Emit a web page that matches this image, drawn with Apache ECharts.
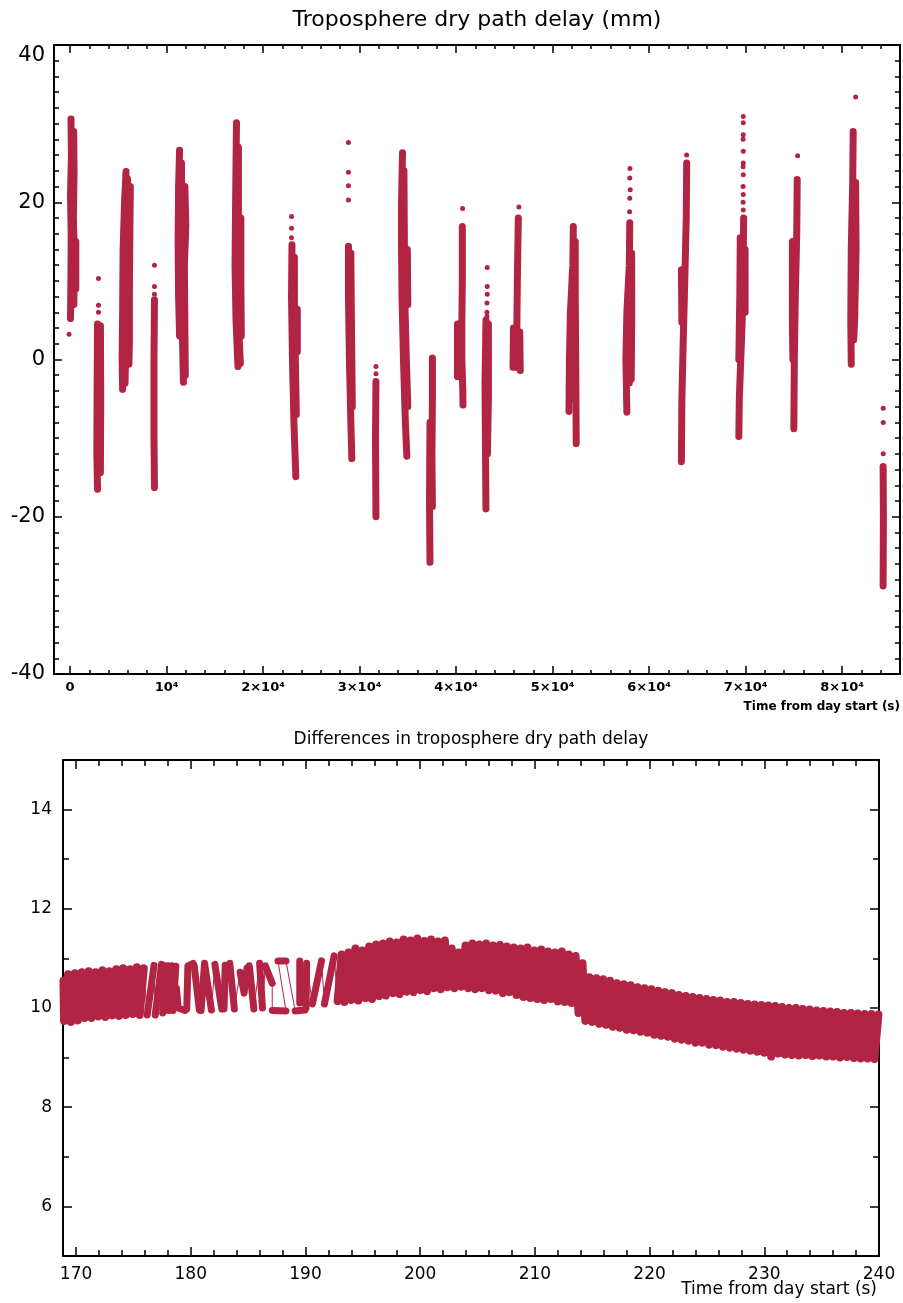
<!DOCTYPE html>
<html>
<head>
<meta charset="utf-8">
<title>Troposphere dry path delay</title>
<script src="https://cdn.jsdelivr.net/npm/echarts@6/dist/echarts.min.js"></script>
<style>
html,body{margin:0;padding:0;background:#fff;}
#chart{width:903px;height:1303px;}
</style>
</head>
<body>
<div id="chart"></div>
<script>
// ---------- top panel: dry path delay (mm) vs time from day start (s)
// one small array per scan streak (time, delay), read top to bottom.
// wide streaks get a 2nd / 3rd pass next to the first one
var streaks = [
    [[100,30.6],[150,26],[50,21],[120,16],[100,11],[50,5.2]],
    [[380,29],[420,24],[350,18],[450,13],[400,7]],
    [[600,15],[600,9]],
    [[2850,4.5],[2800,-5],[2780,-12],[2850,-16.5]],
    [[3150,4.3],[3180,-5],[3150,-14.4]],
    [[5800,23.9],[5650,20],[5500,14],[5450,6],[5400,0],[5450,-3.8]],
    [[5950,23],[6050,20],[5900,14],[5800,6],[5750,0],[5700,-3]],
    [[6250,22],[6200,16],[6150,8],[6150,2],[6100,-0.6]],
    [[8750,7.6],[8700,0],[8700,-10],[8750,-16.3]],
    [[11350,26.6],[11250,22],[11200,15],[11250,8],[11350,3]],
    [[11550,25],[11550,15],[11550,8],[11650,3],[11750,-2.9]],
    [[11900,22],[12000,17],[11850,12],[11900,4],[11950,-2]],
    [[17250,30.1],[17200,25],[17150,19],[17100,12],[17200,5],[17400,-0.9]],
    [[17450,27],[17450,19],[17400,12],[17450,5],[17650,-0.5]],
    [[17700,18],[17700,10],[17750,3]],
    [[23000,14.6],[22950,8],[23050,0],[23200,-8],[23400,-14.9]],
    [[23250,13],[23250,6],[23350,0],[23450,-7]],
    [[23550,6.4],[23550,1]],
    [[28850,14.4],[28850,8],[28950,0],[29100,-8],[29200,-12.6]],
    [[29100,13.5],[29150,6],[29200,0],[29250,-6]],
    [[31700,-2.8],[31650,-10],[31700,-20]],
    [[34450,26.3],[34350,20],[34350,14],[34400,8],[34550,0],[34750,-8],[34900,-12.3]],
    [[34600,24],[34650,14],[34700,7],[34850,0],[35000,-6]],
    [[34950,14],[35000,7]],
    [[37550,0.2],[37550,-5],[37500,-12],[37550,-18.7]],
    [[37300,-8],[37250,-18],[37300,-25.8]],
    [[40650,16.9],[40650,10],[40600,4.8],[40600,0],[40700,-4],[40720,-5.8]],
    [[40150,4.5],[40150,-2.2]],
    [[40400,4.5],[40400,-1.8]],
    [[43100,5],[43000,-3],[43050,-12],[43100,-19]],
    [[43350,4.5],[43350,-5],[43250,-12]],
    [[46450,18],[46350,10],[46300,4],[46250,-1]],
    [[45950,4],[45900,-1]],
    [[46600,3.5],[46650,-1.4]],
    [[52150,16.9],[52100,12],[51850,6],[51750,0],[51700,-6.6]],
    [[52350,15],[52350,8],[52400,0],[52450,-10.7]],
    [[52050,11],[52100,0],[52150,-5]],
    [[58000,17.4],[57950,12],[57700,6],[57600,0],[57700,-6.7]],
    [[58200,13.5],[58200,5],[58150,-2.5]],
    [[57900,8],[57950,0],[57950,-3]],
    [[63900,25],[63850,18],[63700,10],[63550,3],[63400,-5],[63350,-13]],
    [[63350,11.4],[63400,4.7]],
    [[69800,18],[69750,12],[69650,5],[69500,0],[69350,-5],[69300,-9.8]],
    [[69450,15.5],[69400,8],[69300,0]],
    [[69950,14],[69950,6]],
    [[75350,22.9],[75300,16],[75150,8],[75050,0],[75000,-8.8]],
    [[74850,15],[74850,5],[74900,0]],
    [[81150,29],[81100,22.5],[80950,14],[80900,5],[80950,-0.6]],
    [[81400,22.5],[81450,14],[81300,5],[81200,2.5]],
    [[81200,20],[81200,10],[81100,4]],
    [[84250,-13.6],[84280,-20],[84250,-28.8]]
];
// single points above / below the streaks
var strayPoints = [
    [-100,3.2],
    [2950,10.3],[2950,6.9],[2950,6.0],
    [8750,12.0],[8750,9.3],[8750,8.3],
    [22950,18.2],[22950,16.7],[22950,15.5],
    [28850,27.6],[28850,23.8],[28850,22.1],[28850,20.3],
    [31700,-0.9],[31700,-1.8],
    [40680,19.2],
    [43230,11.7],[43230,9.3],[43230,8.3],[43200,7.2],[43200,6.0],[43200,5.5],
    [46510,19.4],
    [58020,24.3],[58000,23.1],[58050,21.6],[58000,20.5],[57980,18.8],
    [63890,26],
    [69760,30.9],[69760,30.1],[69760,28.6],[69740,28.0],[69760,26.5],[69760,25],
    [69740,24.5],[69760,23.5],[69740,22],[69760,21],[69740,20],[69760,19],
    [75390,25.9],
    [81400,33.4],
    [84260,-6.2],[84260,-8],[84260,-12]
];
var topTimeTicks = [0,10000,20000,30000,40000,50000,60000,70000,80000];
var topTimeLabels = ['0','10\u2074','2\u00d710\u2074','3\u00d710\u2074','4\u00d710\u2074',
    '5\u00d710\u2074','6\u00d710\u2074','7\u00d710\u2074','8\u00d710\u2074'];

// ---------- bottom panel: differences (time s, value)
var diffTicksX = [170,180,190,200,210,220,230,240];
var diffTicksY = [6,8,10,12,14];

var diffLeftBlock = [[168.9,10.55],[168.95,9.74],[169.3,10.68],[169.55,9.72],[169.9,10.7],
    [170.15,9.75],[170.5,10.72],[170.75,9.8],[171.1,10.74],[171.35,9.8],[171.7,10.72],
    [171.95,9.83],[172.3,10.76],[172.55,9.82],[172.9,10.74],[173.15,9.85],[173.5,10.78],
    [173.75,9.84],[174.1,10.8],[174.35,9.86],[174.7,10.78],[174.95,9.88],[175.3,10.82],
    [175.55,9.86],[175.9,10.8]];

var diffSparse = [
    [[176.2,9.86],[176.8,10.86]],
    [[176.9,9.86],[177.45,10.88]],
    [[177.55,9.9],[177.6,10.86]],
    [[177.75,9.95],[178.0,10.85]],
    [[178.1,9.95],[178.35,10.85]],
    [[178.45,9.95],[178.7,10.84]],
    [[178.75,10.4],[178.9,10.0],[179.5,9.95]],
    [[179.65,9.98],[179.75,10.85],[180.2,10.9]],
    [[180.3,10.85],[180.75,9.96]],
    [[180.9,9.95],[181.2,10.9],[181.8,9.96]],
    [[182.1,10.88],[182.7,9.98]],
    [[182.9,9.98],[183.0,10.86]],
    [[183.4,10.9],[183.8,9.98]],
    [[184.3,10.72],[184.65,10.3],[184.9,10.8]],
    [[185.1,10.85],[185.5,9.98]],
    [[186.0,10.9],[186.25,10.0]],
    [[186.5,10.85],[187.1,10.5]],
    [[187.1,9.95],[188.3,9.94]],
    [[187.6,10.95],[188.3,10.95]],
    [[189.1,9.94],[189.95,9.96]],
    [[189.5,10.95],[189.5,10.1]],
    [[190.05,10.0],[190.1,10.9]],
    [[190.6,10.08],[191.4,10.95]],
    [[191.65,10.08],[192.5,11.05]]
];

var diffBlockA = [[192.8,10.14],[193.15,11.08],[193.4,10.12],[193.75,11.12],[194.0,10.16],[194.35,11.2],
    [194.6,10.15],[194.95,11.16],[195.2,10.2],[195.55,11.24],[195.8,10.18],[196.15,11.28],
    [196.4,10.24],[196.75,11.3],[197.0,10.25],[197.35,11.34],[197.6,10.3],[197.95,11.32],
    [198.2,10.28],[198.55,11.38],[198.8,10.33],[199.15,11.36],[199.4,10.32],[199.75,11.4],
    [200.0,10.36],[200.35,11.35],[200.6,10.34],[200.95,11.38],[201.2,10.4],[201.55,11.34],
    [201.8,10.38],[202.15,11.36],[202.4,10.42],[202.75,11.2],[203.0,10.4],[203.35,11.12]];
var diffBlockB = [[203.6,10.43],[203.95,11.26],[204.2,10.4],[204.55,11.3],[204.8,10.38],[205.15,11.28],
    [205.4,10.4],[205.75,11.3],[206.0,10.36],[206.35,11.26],[206.6,10.35],[206.95,11.27],
    [207.2,10.3],[207.55,11.24],[207.8,10.32],[208.15,11.22],[208.4,10.26],[208.75,11.2],
    [209.0,10.22],[209.35,11.22],[209.6,10.2],[209.95,11.16],[210.2,10.18],[210.55,11.18],
    [210.8,10.16],[211.15,11.14],[211.4,10.18],[211.75,11.12],[212.0,10.13],[212.35,11.14],
    [212.6,10.12],[212.95,11.08],[213.2,10.1],[213.55,11.05],[213.8,9.9],[214.15,10.9]];
var diffBlockC = [[214.4,9.74],[214.75,10.62],[215.0,9.72],[215.35,10.6],[215.6,9.68],[215.95,10.58],
    [216.2,9.66],[216.55,10.55],[216.8,9.62],[217.15,10.5],[217.4,9.6],[217.75,10.48],
    [218.0,9.56],[218.35,10.46],[218.6,9.55],[218.95,10.42],[219.2,9.52],[219.55,10.4],
    [219.8,9.5],[220.15,10.38],[220.4,9.46],[220.75,10.35],[221.0,9.44],[221.35,10.32],
    [221.6,9.42],[221.95,10.3],[222.2,9.38],[222.55,10.26],[222.8,9.36],[223.15,10.24],
    [223.4,9.34],[223.75,10.22],[224.0,9.3],[224.35,10.2],[224.6,9.3],[224.95,10.18],
    [225.2,9.26],[225.55,10.16],[225.8,9.25],[226.15,10.15],[226.4,9.22],[226.75,10.12]];
var diffBlockD = [[227.0,9.2],[227.35,10.12],[227.6,9.18],[227.95,10.1],[228.2,9.16],[228.55,10.08],
    [228.8,9.14],[229.15,10.07],[229.4,9.12],[229.75,10.06],[230.0,9.1],[230.35,10.05],
    [230.6,9.02],[230.95,10.04],[231.2,9.08],[231.55,10.02],[231.8,9.06],[232.15,10.0],
    [232.4,9.05],[232.75,10.0],[233.0,9.04],[233.35,9.98],[233.6,9.05],[233.95,9.97],
    [234.2,9.03],[234.55,9.95],[234.8,9.04],[235.15,9.94],[235.4,9.02],[235.75,9.93],
    [236.0,9.02],[236.35,9.92],[236.6,9.0],[236.95,9.9],[237.2,9.01],[237.55,9.9],
    [237.8,8.99],[238.15,9.89],[238.4,8.98],[238.75,9.88],[239.0,8.98],[239.35,9.88],
    [239.6,8.97],[239.95,9.87]];

var red = '#b22443';
var font = 'DejaVu Sans';

// minor tick positions
var topMinorX = [];
for (var t = 0; t <= 86000; t += 2000) topMinorX.push(t);
var diffMinorX = [];
for (var d = 170; d <= 240; d += 2) diffMinorX.push(d);
var diffMinorY = [7,9,11,13];

function xAxisFor(grid, pos, min, max, ticks, len, showLine) {
    return {
        type:'value', gridIndex:grid, position:pos, min:min, max:max,
        axisLine:{show:showLine, onZero:false, lineStyle:{color:'#000', width:2}},
        axisTick:{show:true, inside:true, length:len, customValues:ticks, lineStyle:{color:'#000', width:1.5}},
        axisLabel:{show:false},
        splitLine:{show:false}
    };
}
function yAxisFor(grid, pos, min, max, ticks, len, showLine) {
    return {
        type:'value', gridIndex:grid, position:pos, min:min, max:max,
        axisLine:{show:showLine, onZero:false, lineStyle:{color:'#000', width:2}},
        axisTick:{show:true, inside:true, length:len, customValues:ticks, lineStyle:{color:'#000', width:1.5}},
        axisLabel:{show:false},
        splitLine:{show:false}
    };
}

var xAxes = [
    xAxisFor(0,'bottom',-1660,86000,topTimeTicks,8,true),
    xAxisFor(0,'bottom',-1660,86000,topMinorX,4,false),
    xAxisFor(0,'top',-1660,86000,topTimeTicks,8,true),
    xAxisFor(0,'top',-1660,86000,topMinorX,4,false),
    xAxisFor(1,'bottom',168.86,240,diffTicksX,9,true),
    xAxisFor(1,'bottom',168.86,240,diffMinorX,6,false),
    xAxisFor(1,'top',168.86,240,diffTicksX,9,true),
    xAxisFor(1,'top',168.86,240,diffMinorX,6,false)
];
xAxes[0].axisLabel = {
    show:true, customValues:topTimeTicks, margin:7, color:'#000',
    fontFamily:font, fontSize:13, fontWeight:'bold',
    formatter:function(v){ return topTimeLabels[topTimeTicks.indexOf(v)]; }
};
xAxes[4].axisLabel = {
    show:true, customValues:diffTicksX, margin:10, color:'#000',
    fontFamily:font, fontSize:17
};

var topY = {
    type:'value', gridIndex:0, position:'left', min:-40, max:40, interval:20,
    axisLine:{show:true, onZero:false, lineStyle:{color:'#000', width:2}},
    axisTick:{show:true, inside:true, length:8, lineStyle:{color:'#000', width:1.5}},
    minorTick:{show:true, splitNumber:10, length:5, lineStyle:{color:'#000', width:1.5}},
    axisLabel:{show:true, margin:9, color:'#000', fontFamily:font, fontSize:21, verticalAlignMaxLabel:'top'},
    splitLine:{show:false}
};
var topYRight = JSON.parse(JSON.stringify(topY));
topYRight.position = 'right';
topYRight.axisLabel = {show:false};

var yAxes = [
    topY,
    topYRight,
    yAxisFor(1,'left',5,15,diffTicksY,9,true),
    yAxisFor(1,'left',5,15,diffMinorY,6,false),
    yAxisFor(1,'right',5,15,diffTicksY,9,true),
    yAxisFor(1,'right',5,15,diffMinorY,6,false)
];
yAxes[2].axisLabel = {
    show:true, customValues:diffTicksY, margin:11, color:'#000',
    fontFamily:font, fontSize:17
};

var series = [];
streaks.forEach(function(s){
    series.push({
        type:'line', xAxisIndex:0, yAxisIndex:0, data:s, symbol:'none', silent:true,
        lineStyle:{color:red, width:7, cap:'round', join:'round'}
    });
});
series.push({
    type:'scatter', xAxisIndex:0, yAxisIndex:0, data:strayPoints, symbolSize:5, silent:true,
    itemStyle:{color:red, opacity:1}
});

// bottom: thick runs of points + thin line joining everything in time order
var diffDense = diffBlockA.concat(diffBlockB, diffBlockC, diffBlockD);
var diffRuns = [diffLeftBlock].concat(diffSparse, [diffDense]);
var diffAll = [];
diffRuns.forEach(function(r, i){
    diffAll = diffAll.concat(r);
    var dense = (i === 0 || i === diffRuns.length - 1);
    series.push({
        type:'line', xAxisIndex:4, yAxisIndex:2, data:r, symbol:'none', silent:true,
        lineStyle:{color:red, width:dense ? 8 : 7, cap:'round', join:'round'}
    });
});
series.push({
    type:'line', xAxisIndex:4, yAxisIndex:2, data:diffAll, symbol:'none', silent:true,
    lineStyle:{color:red, width:1}
});

var chart = echarts.init(document.getElementById('chart'));
chart.setOption({
    animation:false,
    backgroundColor:'#fff',
    textStyle:{fontFamily:font},
    grid:[
        {left:54, top:45, width:846, height:629, outerBoundsMode:'none', containLabel:false},
        {left:63, top:760, width:816, height:496, outerBoundsMode:'none', containLabel:false}
    ],
    xAxis:xAxes,
    yAxis:yAxes,
    series:series,
    graphic:[
        {type:'text', x:477, y:20, silent:true, style:{text:'Troposphere dry path delay (mm)', font:'22px "DejaVu Sans"',
            fill:'#000', align:'center', verticalAlign:'middle', textAlign:'center', textVerticalAlign:'middle'}},
        {type:'text', x:900, y:707, silent:true, style:{text:'Time from day start (s)', font:'bold 12px "DejaVu Sans"',
            fill:'#000', align:'right', verticalAlign:'middle', textAlign:'right', textVerticalAlign:'middle'}},
        {type:'text', x:471, y:740, silent:true, style:{text:'Differences in troposphere dry path delay', font:'17px "DejaVu Sans"',
            fill:'#000', align:'center', verticalAlign:'middle', textAlign:'center', textVerticalAlign:'middle'}},
        {type:'text', x:877, y:1290, silent:true, style:{text:'Time from day start (s)', font:'17px "DejaVu Sans"',
            fill:'#000', align:'right', verticalAlign:'middle', textAlign:'right', textVerticalAlign:'middle'}}
    ]
});
</script>
</body>
</html>
